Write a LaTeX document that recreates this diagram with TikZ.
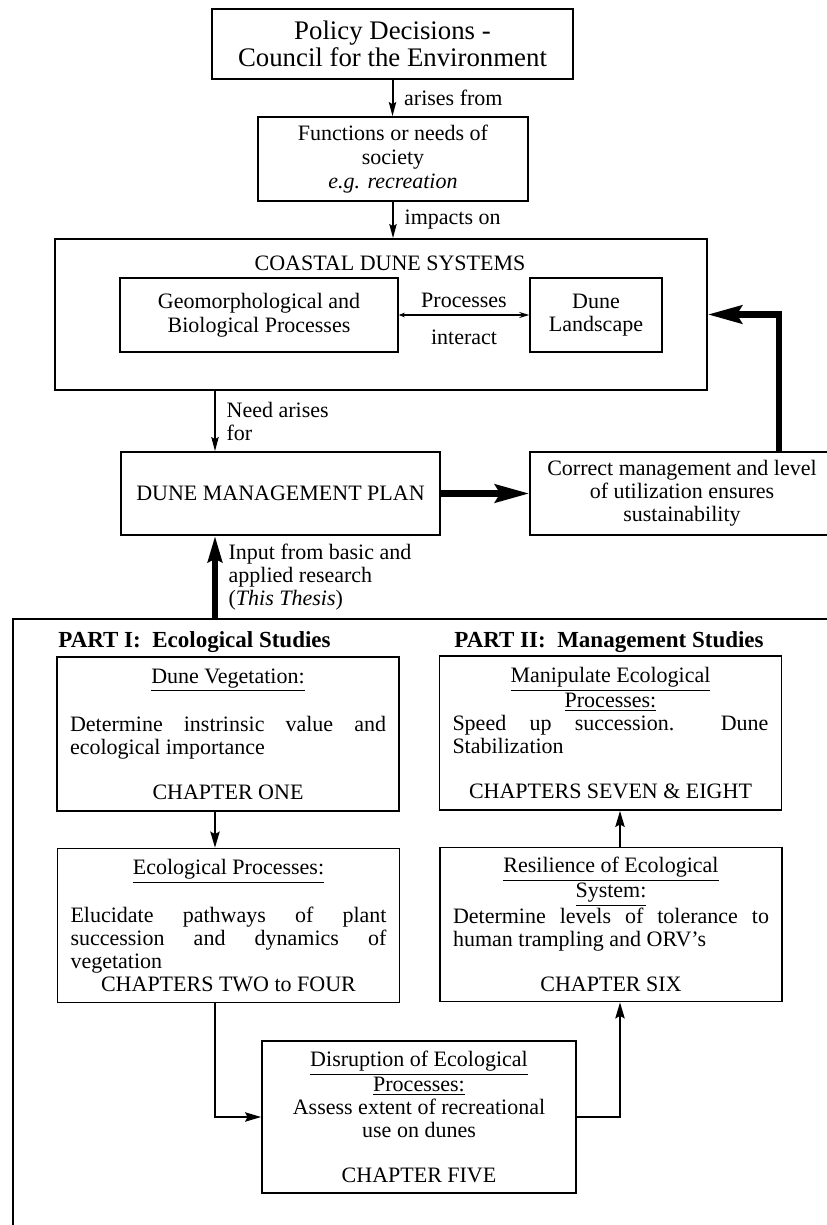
\documentclass[tikz,border=0pt]{standalone}
\usepackage{fontspec}
\setmainfont{Liberation Serif}
\usetikzlibrary{arrows.meta}
\usetikzlibrary{positioning}

% justified and left-set lines inside the study boxes
\newcommand{\jline}[1]{\makebox[158pt][s]{#1}}
\newcommand{\lline}[1]{\makebox[158pt][l]{#1}}

\begin{document}
\begin{tikzpicture}[
    x=0.5pt, y=-0.5pt,
    box/.style={rectangle, draw, line width=0.8pt, align=center,
      font=\fontsize{11}{11.75}\selectfont, inner sep=0pt},
    colbox/.style={box, minimum width=171pt, minimum height=77pt,
      font=\fontsize{11}{11.5}\selectfont},
    arrow/.style={-{Stealth[length=7pt, width=3.6pt, inset=1pt]}, line width=1pt},
    link/.style={-{Stealth[length=8pt, width=4.6pt, inset=1.2pt]}, line width=1.2pt},
    bigarrow/.style={-{Stealth[length=13pt, width=7pt, inset=1.5pt]}, line width=3pt},
    fatarrow/.style={-{Stealth[length=17pt, width=9pt, inset=2.5pt]}, line width=3.2pt},
    lbl/.style={font=\fontsize{11}{11.5}\selectfont, align=left},
    parthead/.style={font=\fontsize{11.5}{13}\selectfont\bfseries, anchor=west, inner sep=0pt},
  ]
  \useasboundingbox (0,0) rectangle (826,1225);

  % Top chain
  \node[box, minimum width=180.5pt, minimum height=35pt,
    font=\fontsize{13.4}{13.5}\selectfont] (policy) at (392.5,44)
    {Policy Decisions -\\Council for the Environment};
  \node[box, minimum width=135pt, minimum height=42pt,
    font=\fontsize{11}{12}\selectfont] (func) at (393,159)
    {Functions or needs of\\society\\\textit{e.g. recreation}};

  % Coastal dune systems
  \node[box, minimum width=326pt, minimum height=75.5pt] (coastal) at (381,314.5) {};
  \node[lbl] (coastaltitle) at (390,263) {COASTAL DUNE SYSTEMS};
  \node[box, minimum width=139pt, minimum height=37pt] (geo) at (259,315)
    {Geomorphological and\\Biological Processes};
  \node[box, minimum width=66pt, minimum height=37pt] (dune) at (596,315)
    {Dune\\Landscape};

  % Management plan
  \node[box, minimum width=159.5pt, minimum height=41.5pt] (dmp) at (280.5,493.5)
    {DUNE MANAGEMENT PLAN};
  \node[box, minimum width=152pt, minimum height=41.5pt,
    font=\fontsize{11}{11.5}\selectfont] (correct) at (682,493.5)
    {Correct management and level\\of utilization ensures\\sustainability};

  % Thesis frame
  \node[box, anchor=north west, minimum width=450pt, minimum height=350pt] (thesis) at (12,618) {};
  \node[parthead] (part1) at (58,642) {PART I:\ \ Ecological Studies};
  \node[parthead] (part2) at (454,642) {PART II:\ \ Management Studies};

  % Part I
  \node[colbox] (veg) at (228,734)
    {\underline{Dune Vegetation:}\\[11pt]
     \jline{Determine instrinsic value and}\\
     \lline{ecological importance}\\[11pt]
     CHAPTER ONE};
  \node[colbox] (eco) at (228.5,925.5)
    {\underline{Ecological Processes:}\\[11pt]
     \jline{Elucidate pathways of plant}\\
     \jline{succession and dynamics of}\\
     \lline{vegetation}\\
     CHAPTERS TWO to FOUR};

  % Part II
  \node[colbox] (manip) at (610.5,733)
    {\underline{Manipulate Ecological}\\
     \underline{Processes:}\\
     \jline{Speed up succession.\ \ Dune}\\
     \lline{Stabilization}\\[11pt]
     CHAPTERS SEVEN \& EIGHT};
  \node[colbox] (resil) at (611,924.5)
    {\underline{Resilience of Ecological}\\
     \underline{System:}\\
     \jline{Determine levels of tolerance to}\\
     \lline{human trampling and ORV's}\\[11pt]
     CHAPTER SIX};

  % Disruption
  \node[colbox, minimum width=157pt, minimum height=76pt] (disr) at (419,1117)
    {\underline{Disruption of Ecological}\\
     \underline{Processes:}\\
     Assess extent of recreational\\
     use on dunes\\[11pt]
     CHAPTER FIVE};

  \coordinate (spine) at (215,0);
  \coordinate (rspine) at (620,0);
  \coordinate (fback) at (779,0);

  % Arrows
  \draw[arrow] (policy.south) -- (policy.south |- func.north)
    node[midway, right, lbl, xshift=2pt] {arises from};
  \draw[arrow] (func.south) -- (func.south |- coastal.north)
    node[midway, right, lbl, xshift=2pt] {impacts on};
  \draw[{Stealth[length=3pt, width=2.4pt]}-{Stealth[length=5pt, width=3pt]}, line width=0.6pt]
    (geo.east) -- node[above, lbl] {Processes} node[below=4pt, lbl] {interact} (dune.west);
  \draw[arrow] (spine |- coastal.south) --
    node[right, lbl, xshift=2pt] {Need arises\\for} (spine |- dmp.north);
  \draw[fatarrow] (dmp.east) -- (correct.west);
  \draw[fatarrow] (fback |- correct.north) |- (coastal.east);
  \draw[bigarrow] (spine |- thesis.north) --
    node[right, lbl, xshift=2pt] {Input from basic and\\applied research\\(\textit{This Thesis})}
    (spine |- dmp.south);
  \draw[link] (spine |- veg.south) -- (spine |- eco.north);
  \draw[link] (spine |- eco.south) |- (disr.west);
  \draw[link] (disr.east) -| (rspine |- resil.south);
  \draw[link] (rspine |- resil.north) -- (rspine |- manip.south);

\end{tikzpicture}
\end{document}
